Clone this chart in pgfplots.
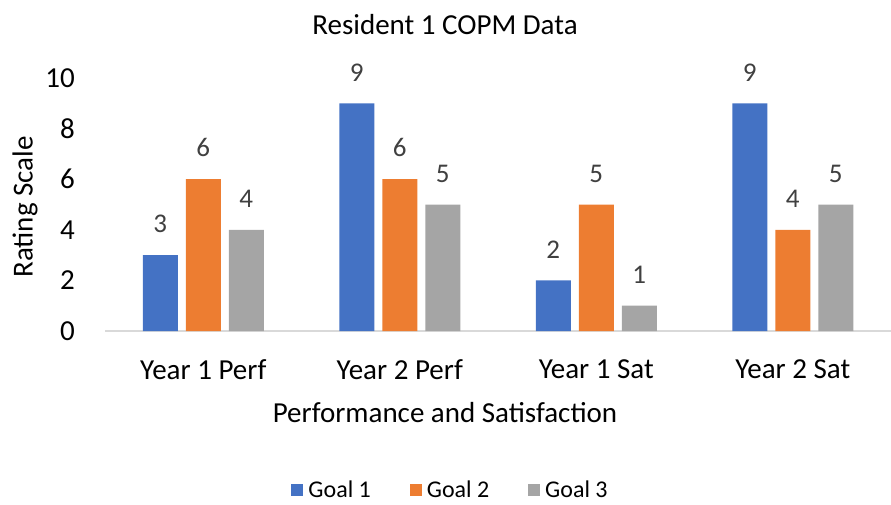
\documentclass[border=0pt]{standalone}
\usepackage{pgfplots}
\pgfplotsset{compat=1.18}
\usepackage{fontspec}
\setmainfont{Carlito}
\definecolor{cblue}{HTML}{4472C4}
\definecolor{corange}{HTML}{ED7D31}
\definecolor{cgray}{HTML}{A5A5A5}
\definecolor{lblgray}{HTML}{404040}
\definecolor{axgray}{HTML}{D9D9D9}
\begin{document}
\begin{tikzpicture}[x=1pt,y=1pt]
\path[use as bounding box] (0,0) rectangle (891,504);
\node[font=\fontsize{29}{29}\selectfont, anchor=center] at (445,479) {Resident 1 COPM Data};
\node[font=\fontsize{29}{29}\selectfont, anchor=center] at (445,91) {Performance and Satisfaction};
\node[font=\fontsize{29}{29}\selectfont, anchor=center, rotate=90] at (25,297) {Rating Scale};
\begin{axis}[
  at={(105pt,173pt)}, anchor=south west,
  scale only axis, width=786pt, height=253pt,
  xmin=-0.5, xmax=3.5, ymin=0, ymax=10,
  ybar=8pt, bar width=35pt,
  axis x line=bottom, axis y line=left,
  y axis line style={draw=none},
  x axis line style={draw=axgray, line width=1.2pt, -},
  major tick length=0pt,
  xtick={0,1,2,3},
  xticklabels={Year 1 Perf, Year 2 Perf, Year 1 Sat, Year 2 Sat},
  ytick={0,2,4,6,8,10},
  tick label style={font=\fontsize{29}{29}\selectfont, text=black},
  /pgf/number format/assume math mode=true,
  yticklabel style={anchor=east, inner sep=0pt, xshift=-30pt},
  xticklabel style={anchor=north, inner sep=0pt, yshift=-28pt},
  nodes near coords,
  every node near coord/.append style={font=\fontsize{27}{27}\selectfont, text=lblgray, inner sep=0pt, anchor=south, yshift=22pt},
  legend columns=3,
  legend style={draw=none, at={(0.439,-0.628)}, anchor=center, font=\fontsize{24}{24}\selectfont, column sep=4pt, nodes={inner sep=1pt},
    /tikz/every even column/.append style={column sep=38pt}},
  legend image code/.code={\fill[#1] (0pt,-6pt) rectangle (12pt,6pt);},
]
\addplot[fill=cblue, draw=none] coordinates {(0,3) (1,9) (2,2) (3,9)};
\addplot[fill=corange, draw=none] coordinates {(0,6) (1,6) (2,5) (3,4)};
\addplot[fill=cgray, draw=none] coordinates {(0,4) (1,5) (2,1) (3,5)};
\legend{Goal 1, Goal 2, Goal 3}
\end{axis}
\end{tikzpicture}
\end{document}
